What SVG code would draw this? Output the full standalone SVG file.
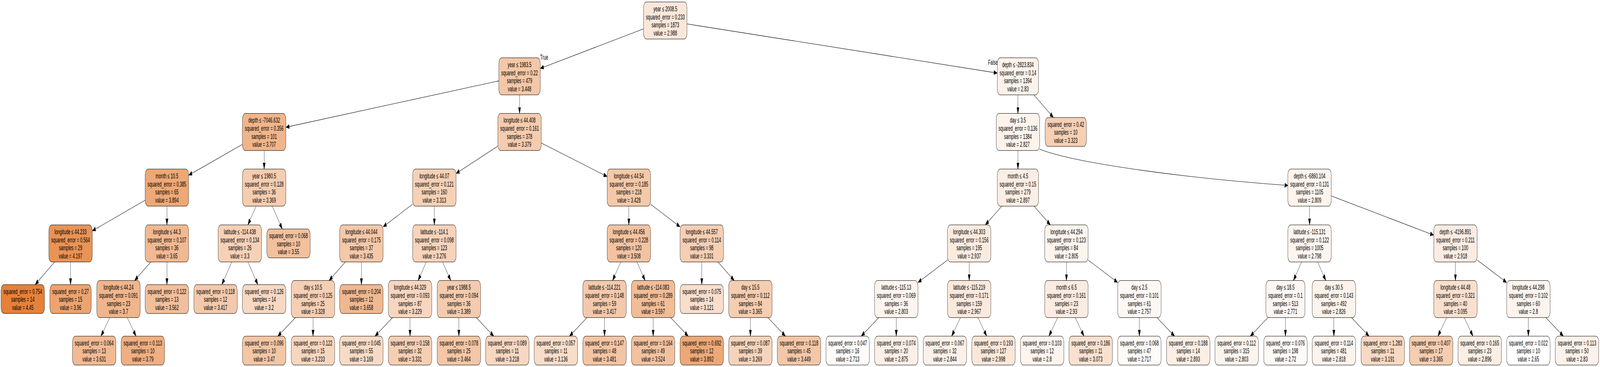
<svg xmlns="http://www.w3.org/2000/svg" width="7371" height="940" viewBox="0 0 7371 940" preserveAspectRatio="none">
<style>
:root{width:100vw;height:100vh}
.node rect{stroke:#000;stroke-width:1.1}
text{font-family:"Liberation Sans",Arial,Helvetica,sans-serif;font-size:18px;fill:#000}
.node text{text-anchor:middle}
.edges path{fill:none;stroke:#000;stroke-width:1.1;marker-end:url(#arr)}
</style>
<defs>
<marker id="arr" markerUnits="userSpaceOnUse" markerWidth="16" markerHeight="12" viewBox="0 0 15 10.4" refX="15" refY="5.2" orient="auto">
<path d="M0,0 L15,5.2 L0,10.4 z" fill="#000" stroke="#000" stroke-width="0.8"/>
</marker>
</defs>
<rect width="7371" height="940" fill="#fff"/>
<g class="edges">
<path d="M2965,73.8 L2489,175.2"/>
<path d="M3165,61.3 L4594.5,187.1"/>
<path d="M2298,207.1 L1317,325.9"/>
<path d="M2393.5,243 L2393.5,290.5"/>
<path d="M4689.5,243 L4689.5,290.5"/>
<path d="M4763,243 L4852.7,301"/>
<path d="M1117,369.8 L869,448.7"/>
<path d="M1217,385.5 L1217,433"/>
<path d="M2293.5,374.3 L2101,444.2"/>
<path d="M2493.5,366.3 L2797,452.2"/>
<path d="M4689.5,385.5 L4689.5,433"/>
<path d="M4789,382 C4960,420 5500,458 5934,475"/>
<path d="M669,512.7 L425,591.3"/>
<path d="M769,528 L769,576"/>
<path d="M1179.8,528 L1142.2,576"/>
<path d="M1254.2,528 L1300,586.5"/>
<path d="M1901,523.1 L1765,580.9"/>
<path d="M2001,528 L2001,576"/>
<path d="M2897,528 L2897,576"/>
<path d="M2997,523.1 L3133,580.9"/>
<path d="M4615,528 L4539.5,576"/>
<path d="M4763.7,528 L4838.8,576"/>
<path d="M6033,528 L6033,576"/>
<path d="M6133,501.8 L6605,602.2"/>
<path d="M251.7,671 L162.1,729"/>
<path d="M325,671 L325,729"/>
<path d="M694.7,671 L620.3,718.5"/>
<path d="M769,671 L769,729"/>
<path d="M1067.7,671 L1022.1,729"/>
<path d="M1142.3,671 L1187.9,729"/>
<path d="M1590.7,671 L1516.3,718.5"/>
<path d="M1665,671 L1665,729"/>
<path d="M1963.7,671 L1926.3,718.5"/>
<path d="M2038.7,671 L2076.3,718.5"/>
<path d="M2859.7,671 L2822.3,718.5"/>
<path d="M2934.3,671 L2971.7,718.5"/>
<path d="M3233,671 L3233,729"/>
<path d="M3307.7,671 L3382.3,718.5"/>
<path d="M4365,665.9 L4229,723.6"/>
<path d="M4465,671 L4465,718.5"/>
<path d="M4913,671 L4913,718.5"/>
<path d="M5013,665.9 L5149,723.6"/>
<path d="M5996,671 L5959,718.5"/>
<path d="M6070.3,671 L6107.7,718.5"/>
<path d="M6705,671 L6705,718.5"/>
<path d="M6805,665.9 L6941,723.6"/>
<path d="M505.7,813.5 L465.4,861"/>
<path d="M586.3,813.5 L626.6,861"/>
<path d="M1361,813.5 L1280,861"/>
<path d="M1442,813.5 L1442,861"/>
<path d="M1808.4,813.5 L1727.7,861"/>
<path d="M1889,813.5 L1889,861"/>
<path d="M2114,813.5 L2114,861"/>
<path d="M2194.3,813.5 L2274.6,861"/>
<path d="M2704.4,813.5 L2623.7,861"/>
<path d="M2785,813.5 L2785,861"/>
<path d="M3009,813.5 L3009,861"/>
<path d="M3089.6,813.5 L3170.3,861"/>
<path d="M3457,813.5 L3457,861"/>
<path d="M3537.6,813.5 L3618.3,861"/>
<path d="M4048.4,813.5 L3967.7,861"/>
<path d="M4129,813.5 L4129,861"/>
<path d="M4424.7,813.5 L4384.4,861"/>
<path d="M4505.3,813.5 L4545.6,861"/>
<path d="M4872.7,813.5 L4832.4,861"/>
<path d="M4953.3,813.5 L4993.6,861"/>
<path d="M5249,813.5 L5249,861"/>
<path d="M5330,813.5 L5411,861"/>
<path d="M5841,813.5 L5760,861"/>
<path d="M5922,813.5 L5922,861"/>
<path d="M6145,813.5 L6145,861"/>
<path d="M6226,813.5 L6307,861"/>
<path d="M6664.7,813.5 L6624.4,861"/>
<path d="M6745.3,813.5 L6785.6,861"/>
<path d="M7041,813.5 L7041,861"/>
<path d="M7121.6,813.5 L7202.3,861"/>
<text x="2489" y="153">True</text>
<text x="4552" y="166">False</text>
</g>
<g id="n0" class="node"><rect x="2965" y="5" width="200" height="95" rx="14" fill="#fae7da"/><text x="3065" y="29">year ≤ 2008.5<tspan x="3065" dy="20.6">squared_error = 0.233</tspan><tspan x="3065" dy="20.6">samples = 1873</tspan><tspan x="3065" dy="20.6">value = 2.988</tspan></text></g>
<g id="n1" class="node"><rect x="2298" y="148" width="191" height="95" rx="14" fill="#f3c7a7"/><text x="2393.5" y="172">year ≤ 1983.5<tspan x="2393.5" dy="20.6">squared_error = 0.22</tspan><tspan x="2393.5" dy="20.6">samples = 479</tspan><tspan x="2393.5" dy="20.6">value = 3.448</tspan></text></g>
<g id="n2" class="node"><rect x="4594.5" y="148" width="190" height="95" rx="14" fill="#fcf2eb"/><text x="4689.5" y="172">depth ≤ -2823.834<tspan x="4689.5" dy="20.6">squared_error = 0.14</tspan><tspan x="4689.5" dy="20.6">samples = 1394</tspan><tspan x="4689.5" dy="20.6">value = 2.83</tspan></text></g>
<g id="n3" class="node"><rect x="1117" y="290.5" width="200" height="95" rx="14" fill="#f0b58b"/><text x="1217" y="314.5">depth ≤ -7046.632<tspan x="1217" dy="20.6">squared_error = 0.356</tspan><tspan x="1217" dy="20.6">samples = 101</tspan><tspan x="1217" dy="20.6">value = 3.707</tspan></text></g>
<g id="n4" class="node"><rect x="2293.5" y="290.5" width="200" height="95" rx="14" fill="#f4ccaf"/><text x="2393.5" y="314.5">longitude ≤ 44.408<tspan x="2393.5" dy="20.6">squared_error = 0.161</tspan><tspan x="2393.5" dy="20.6">samples = 378</tspan><tspan x="2393.5" dy="20.6">value = 3.379</tspan></text></g>
<g id="n5" class="node"><rect x="4589.5" y="290.5" width="200" height="95" rx="14" fill="#fcf3ec"/><text x="4689.5" y="314.5">day ≤ 3.5<tspan x="4689.5" dy="20.6">squared_error = 0.136</tspan><tspan x="4689.5" dy="20.6">samples = 1384</tspan><tspan x="4689.5" dy="20.6">value = 2.827</tspan></text></g>
<g id="n6" class="node"><rect x="4815" y="301" width="190" height="74" rx="14" fill="#f5d0b5"/><text x="4910" y="324.8">squared_error = 0.42<tspan x="4910" dy="20.6">samples = 10</tspan><tspan x="4910" dy="20.6">value = 3.323</tspan></text></g>
<g id="n7" class="node"><rect x="669" y="433" width="200" height="95" rx="14" fill="#eda876"/><text x="769" y="457">month ≤ 10.5<tspan x="769" dy="20.6">squared_error = 0.385</tspan><tspan x="769" dy="20.6">samples = 65</tspan><tspan x="769" dy="20.6">value = 3.894</tspan></text></g>
<g id="n8" class="node"><rect x="1117" y="433" width="200" height="95" rx="14" fill="#f5cdb0"/><text x="1217" y="457">year ≤ 1980.5<tspan x="1217" dy="20.6">squared_error = 0.128</tspan><tspan x="1217" dy="20.6">samples = 36</tspan><tspan x="1217" dy="20.6">value = 3.369</tspan></text></g>
<g id="n9" class="node"><rect x="1901" y="433" width="200" height="95" rx="14" fill="#f5d1b6"/><text x="2001" y="457">longitude ≤ 44.07<tspan x="2001" dy="20.6">squared_error = 0.121</tspan><tspan x="2001" dy="20.6">samples = 160</tspan><tspan x="2001" dy="20.6">value = 3.313</tspan></text></g>
<g id="n10" class="node"><rect x="2797" y="433" width="200" height="95" rx="14" fill="#f4c9a9"/><text x="2897" y="457">longitude ≤ 44.54<tspan x="2897" dy="20.6">squared_error = 0.185</tspan><tspan x="2897" dy="20.6">samples = 218</tspan><tspan x="2897" dy="20.6">value = 3.428</tspan></text></g>
<g id="n11" class="node"><rect x="4594.5" y="433" width="190" height="95" rx="14" fill="#fbeee4"/><text x="4689.5" y="457">month ≤ 4.5<tspan x="4689.5" dy="20.6">squared_error = 0.15</tspan><tspan x="4689.5" dy="20.6">samples = 279</tspan><tspan x="4689.5" dy="20.6">value = 2.897</tspan></text></g>
<g id="n12" class="node"><rect x="5933" y="433" width="200" height="95" rx="14" fill="#fdf4ed"/><text x="6033" y="457">depth ≤ -6860.104<tspan x="6033" dy="20.6">squared_error = 0.131</tspan><tspan x="6033" dy="20.6">samples = 1105</tspan><tspan x="6033" dy="20.6">value = 2.809</tspan></text></g>
<g id="n13" class="node"><rect x="225" y="576" width="200" height="95" rx="14" fill="#e99355"/><text x="325" y="600">longitude ≤ 44.233<tspan x="325" dy="20.6">squared_error = 0.564</tspan><tspan x="325" dy="20.6">samples = 29</tspan><tspan x="325" dy="20.6">value = 4.197</tspan></text></g>
<g id="n14" class="node"><rect x="669" y="576" width="200" height="95" rx="14" fill="#f1b991"/><text x="769" y="600">longitude ≤ 44.3<tspan x="769" dy="20.6">squared_error = 0.107</tspan><tspan x="769" dy="20.6">samples = 36</tspan><tspan x="769" dy="20.6">value = 3.65</tspan></text></g>
<g id="n15" class="node"><rect x="1005" y="576" width="200" height="95" rx="14" fill="#f6d1b7"/><text x="1105" y="600">latitude ≤ -114.438<tspan x="1105" dy="20.6">squared_error = 0.134</tspan><tspan x="1105" dy="20.6">samples = 26</tspan><tspan x="1105" dy="20.6">value = 3.3</tspan></text></g>
<g id="n16" class="node"><rect x="1229" y="586.5" width="200" height="74" rx="14" fill="#f2c09c"/><text x="1329" y="610.3">squared_error = 0.068<tspan x="1329" dy="20.6">samples = 10</tspan><tspan x="1329" dy="20.6">value = 3.55</tspan></text></g>
<g id="n17" class="node"><rect x="1565" y="576" width="200" height="95" rx="14" fill="#f4c8a9"/><text x="1665" y="600">longitude ≤ 44.044<tspan x="1665" dy="20.6">squared_error = 0.175</tspan><tspan x="1665" dy="20.6">samples = 37</tspan><tspan x="1665" dy="20.6">value = 3.435</tspan></text></g>
<g id="n18" class="node"><rect x="1901" y="576" width="200" height="95" rx="14" fill="#f6d3ba"/><text x="2001" y="600">latitude ≤ -114.1<tspan x="2001" dy="20.6">squared_error = 0.098</tspan><tspan x="2001" dy="20.6">samples = 123</tspan><tspan x="2001" dy="20.6">value = 3.276</tspan></text></g>
<g id="n19" class="node"><rect x="2797" y="576" width="200" height="95" rx="14" fill="#f3c3a1"/><text x="2897" y="600">longitude ≤ 44.456<tspan x="2897" dy="20.6">squared_error = 0.228</tspan><tspan x="2897" dy="20.6">samples = 120</tspan><tspan x="2897" dy="20.6">value = 3.508</tspan></text></g>
<g id="n20" class="node"><rect x="3133" y="576" width="200" height="95" rx="14" fill="#f5cfb4"/><text x="3233" y="600">longitude ≤ 44.557<tspan x="3233" dy="20.6">squared_error = 0.114</tspan><tspan x="3233" dy="20.6">samples = 98</tspan><tspan x="3233" dy="20.6">value = 3.331</tspan></text></g>
<g id="n21" class="node"><rect x="4365" y="576" width="200" height="95" rx="14" fill="#fbebdf"/><text x="4465" y="600">longitude ≤ 44.303<tspan x="4465" dy="20.6">squared_error = 0.156</tspan><tspan x="4465" dy="20.6">samples = 195</tspan><tspan x="4465" dy="20.6">value = 2.937</tspan></text></g>
<g id="n22" class="node"><rect x="4813" y="576" width="200" height="95" rx="14" fill="#fdf4ee"/><text x="4913" y="600">longitude ≤ 44.294<tspan x="4913" dy="20.6">squared_error = 0.123</tspan><tspan x="4913" dy="20.6">samples = 84</tspan><tspan x="4913" dy="20.6">value = 2.805</tspan></text></g>
<g id="n23" class="node"><rect x="5933" y="576" width="200" height="95" rx="14" fill="#fdf5ef"/><text x="6033" y="600">latitude ≤ -115.131<tspan x="6033" dy="20.6">squared_error = 0.122</tspan><tspan x="6033" dy="20.6">samples = 1005</tspan><tspan x="6033" dy="20.6">value = 2.798</tspan></text></g>
<g id="n24" class="node"><rect x="6605" y="576" width="200" height="95" rx="14" fill="#fbece2"/><text x="6705" y="600">depth ≤ -4196.891<tspan x="6705" dy="20.6">squared_error = 0.211</tspan><tspan x="6705" dy="20.6">samples = 100</tspan><tspan x="6705" dy="20.6">value = 2.918</tspan></text></g>
<g id="n25" class="node"><rect x="5" y="729" width="200" height="74" rx="14" fill="#e58139"/><text x="105" y="752.8">squared_error = 0.754<tspan x="105" dy="20.6">samples = 14</tspan><tspan x="105" dy="20.6">value = 4.45</tspan></text></g>
<g id="n26" class="node"><rect x="230" y="729" width="190" height="74" rx="14" fill="#eca36f"/><text x="325" y="752.8">squared_error = 0.27<tspan x="325" dy="20.6">samples = 15</tspan><tspan x="325" dy="20.6">value = 3.96</tspan></text></g>
<g id="n27" class="node"><rect x="446" y="718.5" width="200" height="95" rx="14" fill="#f0b58c"/><text x="546" y="742.5">longitude ≤ 44.24<tspan x="546" dy="20.6">squared_error = 0.091</tspan><tspan x="546" dy="20.6">samples = 23</tspan><tspan x="546" dy="20.6">value = 3.7</tspan></text></g>
<g id="n28" class="node"><rect x="669" y="729" width="200" height="74" rx="14" fill="#f2bf9b"/><text x="769" y="752.8">squared_error = 0.122<tspan x="769" dy="20.6">samples = 13</tspan><tspan x="769" dy="20.6">value = 3.562</tspan></text></g>
<g id="n29" class="node"><rect x="893" y="729" width="200" height="74" rx="14" fill="#f4c9ab"/><text x="993" y="752.8">squared_error = 0.118<tspan x="993" dy="20.6">samples = 12</tspan><tspan x="993" dy="20.6">value = 3.417</tspan></text></g>
<g id="n30" class="node"><rect x="1117" y="729" width="200" height="74" rx="14" fill="#f7d8c2"/><text x="1217" y="752.8">squared_error = 0.126<tspan x="1217" dy="20.6">samples = 14</tspan><tspan x="1217" dy="20.6">value = 3.2</tspan></text></g>
<g id="n31" class="node"><rect x="1342" y="718.5" width="200" height="95" rx="14" fill="#f5cfb4"/><text x="1442" y="742.5">day ≤ 10.5<tspan x="1442" dy="20.6">squared_error = 0.125</tspan><tspan x="1442" dy="20.6">samples = 25</tspan><tspan x="1442" dy="20.6">value = 3.328</tspan></text></g>
<g id="n32" class="node"><rect x="1565" y="729" width="200" height="74" rx="14" fill="#f0b890"/><text x="1665" y="752.8">squared_error = 0.204<tspan x="1665" dy="20.6">samples = 12</tspan><tspan x="1665" dy="20.6">value = 3.658</tspan></text></g>
<g id="n33" class="node"><rect x="1789" y="718.5" width="200" height="95" rx="14" fill="#f7d6bf"/><text x="1889" y="742.5">longitude ≤ 44.329<tspan x="1889" dy="20.6">squared_error = 0.093</tspan><tspan x="1889" dy="20.6">samples = 87</tspan><tspan x="1889" dy="20.6">value = 3.229</tspan></text></g>
<g id="n34" class="node"><rect x="2014" y="718.5" width="200" height="95" rx="14" fill="#f4cbae"/><text x="2114" y="742.5">year ≤ 1988.5<tspan x="2114" dy="20.6">squared_error = 0.094</tspan><tspan x="2114" dy="20.6">samples = 36</tspan><tspan x="2114" dy="20.6">value = 3.389</tspan></text></g>
<g id="n35" class="node"><rect x="2685" y="718.5" width="200" height="95" rx="14" fill="#f4c9ab"/><text x="2785" y="742.5">latitude ≤ -114.221<tspan x="2785" dy="20.6">squared_error = 0.148</tspan><tspan x="2785" dy="20.6">samples = 59</tspan><tspan x="2785" dy="20.6">value = 3.417</tspan></text></g>
<g id="n36" class="node"><rect x="2909" y="718.5" width="200" height="95" rx="14" fill="#f1bd97"/><text x="3009" y="742.5">latitude ≤ -114.083<tspan x="3009" dy="20.6">squared_error = 0.289</tspan><tspan x="3009" dy="20.6">samples = 61</tspan><tspan x="3009" dy="20.6">value = 3.597</tspan></text></g>
<g id="n37" class="node"><rect x="3133" y="729" width="200" height="74" rx="14" fill="#f8decb"/><text x="3233" y="752.8">squared_error = 0.075<tspan x="3233" dy="20.6">samples = 14</tspan><tspan x="3233" dy="20.6">value = 3.121</tspan></text></g>
<g id="n38" class="node"><rect x="3357" y="718.5" width="200" height="95" rx="14" fill="#f5cdb0"/><text x="3457" y="742.5">day ≤ 15.5<tspan x="3457" dy="20.6">squared_error = 0.112</tspan><tspan x="3457" dy="20.6">samples = 84</tspan><tspan x="3457" dy="20.6">value = 3.365</tspan></text></g>
<g id="n39" class="node"><rect x="4029" y="718.5" width="200" height="95" rx="14" fill="#fdf4ee"/><text x="4129" y="742.5">latitude ≤ -115.13<tspan x="4129" dy="20.6">squared_error = 0.069</tspan><tspan x="4129" dy="20.6">samples = 36</tspan><tspan x="4129" dy="20.6">value = 2.803</tspan></text></g>
<g id="n40" class="node"><rect x="4365" y="718.5" width="200" height="95" rx="14" fill="#fae9dc"/><text x="4465" y="742.5">latitude ≤ -115.219<tspan x="4465" dy="20.6">squared_error = 0.171</tspan><tspan x="4465" dy="20.6">samples = 159</tspan><tspan x="4465" dy="20.6">value = 2.967</tspan></text></g>
<g id="n41" class="node"><rect x="4813" y="718.5" width="200" height="95" rx="14" fill="#fbebe0"/><text x="4913" y="742.5">month ≤ 6.5<tspan x="4913" dy="20.6">squared_error = 0.161</tspan><tspan x="4913" dy="20.6">samples = 23</tspan><tspan x="4913" dy="20.6">value = 2.93</tspan></text></g>
<g id="n42" class="node"><rect x="5149" y="718.5" width="200" height="95" rx="14" fill="#fdf8f3"/><text x="5249" y="742.5">day ≤ 2.5<tspan x="5249" dy="20.6">squared_error = 0.101</tspan><tspan x="5249" dy="20.6">samples = 61</tspan><tspan x="5249" dy="20.6">value = 2.757</tspan></text></g>
<g id="n43" class="node"><rect x="5832" y="718.5" width="180" height="95" rx="14" fill="#fdf6f2"/><text x="5922" y="742.5">day ≤ 18.5<tspan x="5922" dy="20.6">squared_error = 0.1</tspan><tspan x="5922" dy="20.6">samples = 513</tspan><tspan x="5922" dy="20.6">value = 2.771</tspan></text></g>
<g id="n44" class="node"><rect x="6045" y="718.5" width="200" height="95" rx="14" fill="#fcf3ec"/><text x="6145" y="742.5">day ≤ 30.5<tspan x="6145" dy="20.6">squared_error = 0.143</tspan><tspan x="6145" dy="20.6">samples = 492</tspan><tspan x="6145" dy="20.6">value = 2.826</tspan></text></g>
<g id="n45" class="node"><rect x="6605" y="718.5" width="200" height="95" rx="14" fill="#f9e0ce"/><text x="6705" y="742.5">longitude ≤ 44.48<tspan x="6705" dy="20.6">squared_error = 0.321</tspan><tspan x="6705" dy="20.6">samples = 40</tspan><tspan x="6705" dy="20.6">value = 3.095</tspan></text></g>
<g id="n46" class="node"><rect x="6941" y="718.5" width="200" height="95" rx="14" fill="#fdf4ee"/><text x="7041" y="742.5">longitude ≤ 44.298<tspan x="7041" dy="20.6">squared_error = 0.102</tspan><tspan x="7041" dy="20.6">samples = 60</tspan><tspan x="7041" dy="20.6">value = 2.8</tspan></text></g>
<g id="n47" class="node"><rect x="334" y="861" width="200" height="74" rx="14" fill="#f1ba93"/><text x="434" y="884.8">squared_error = 0.064<tspan x="434" dy="20.6">samples = 13</tspan><tspan x="434" dy="20.6">value = 3.631</tspan></text></g>
<g id="n48" class="node"><rect x="558" y="861" width="200" height="74" rx="14" fill="#efaf82"/><text x="658" y="884.8">squared_error = 0.113<tspan x="658" dy="20.6">samples = 10</tspan><tspan x="658" dy="20.6">value = 3.79</tspan></text></g>
<g id="n49" class="node"><rect x="1117" y="861" width="200" height="74" rx="14" fill="#f3c6a5"/><text x="1217" y="884.8">squared_error = 0.096<tspan x="1217" dy="20.6">samples = 10</tspan><tspan x="1217" dy="20.6">value = 3.47</tspan></text></g>
<g id="n50" class="node"><rect x="1342" y="861" width="200" height="74" rx="14" fill="#f7d6bf"/><text x="1442" y="884.8">squared_error = 0.122<tspan x="1442" dy="20.6">samples = 15</tspan><tspan x="1442" dy="20.6">value = 3.233</tspan></text></g>
<g id="n51" class="node"><rect x="1565" y="861" width="200" height="74" rx="14" fill="#f8dbc6"/><text x="1665" y="884.8">squared_error = 0.045<tspan x="1665" dy="20.6">samples = 55</tspan><tspan x="1665" dy="20.6">value = 3.169</tspan></text></g>
<g id="n52" class="node"><rect x="1789" y="861" width="200" height="74" rx="14" fill="#f5cfb4"/><text x="1889" y="884.8">squared_error = 0.158<tspan x="1889" dy="20.6">samples = 32</tspan><tspan x="1889" dy="20.6">value = 3.331</tspan></text></g>
<g id="n53" class="node"><rect x="2014" y="861" width="200" height="74" rx="14" fill="#f3c6a5"/><text x="2114" y="884.8">squared_error = 0.078<tspan x="2114" dy="20.6">samples = 25</tspan><tspan x="2114" dy="20.6">value = 3.464</tspan></text></g>
<g id="n54" class="node"><rect x="2237" y="861" width="200" height="74" rx="14" fill="#f7d7c0"/><text x="2337" y="884.8">squared_error = 0.089<tspan x="2337" dy="20.6">samples = 11</tspan><tspan x="2337" dy="20.6">value = 3.218</tspan></text></g>
<g id="n55" class="node"><rect x="2461" y="861" width="200" height="74" rx="14" fill="#f8ddc9"/><text x="2561" y="884.8">squared_error = 0.057<tspan x="2561" dy="20.6">samples = 11</tspan><tspan x="2561" dy="20.6">value = 3.136</tspan></text></g>
<g id="n56" class="node"><rect x="2685" y="861" width="200" height="74" rx="14" fill="#f3c5a4"/><text x="2785" y="884.8">squared_error = 0.147<tspan x="2785" dy="20.6">samples = 48</tspan><tspan x="2785" dy="20.6">value = 3.481</tspan></text></g>
<g id="n57" class="node"><rect x="2909" y="861" width="200" height="74" rx="14" fill="#f2c29f"/><text x="3009" y="884.8">squared_error = 0.164<tspan x="3009" dy="20.6">samples = 49</tspan><tspan x="3009" dy="20.6">value = 3.524</tspan></text></g>
<g id="n58" class="node"><rect x="3133" y="861" width="200" height="74" rx="14" fill="#eda876"/><text x="3233" y="884.8">squared_error = 0.692<tspan x="3233" dy="20.6">samples = 12</tspan><tspan x="3233" dy="20.6">value = 3.892</tspan></text></g>
<g id="n59" class="node"><rect x="3357" y="861" width="200" height="74" rx="14" fill="#f6d4bb"/><text x="3457" y="884.8">squared_error = 0.087<tspan x="3457" dy="20.6">samples = 39</tspan><tspan x="3457" dy="20.6">value = 3.269</tspan></text></g>
<g id="n60" class="node"><rect x="3581" y="861" width="200" height="74" rx="14" fill="#f3c7a7"/><text x="3681" y="884.8">squared_error = 0.118<tspan x="3681" dy="20.6">samples = 45</tspan><tspan x="3681" dy="20.6">value = 3.449</tspan></text></g>
<g id="n61" class="node"><rect x="3805" y="861" width="200" height="74" rx="14" fill="#fefbf8"/><text x="3905" y="884.8">squared_error = 0.047<tspan x="3905" dy="20.6">samples = 16</tspan><tspan x="3905" dy="20.6">value = 2.713</tspan></text></g>
<g id="n62" class="node"><rect x="4029" y="861" width="200" height="74" rx="14" fill="#fcefe6"/><text x="4129" y="884.8">squared_error = 0.074<tspan x="4129" dy="20.6">samples = 20</tspan><tspan x="4129" dy="20.6">value = 2.875</tspan></text></g>
<g id="n63" class="node"><rect x="4253" y="861" width="200" height="74" rx="14" fill="#fcf1e9"/><text x="4353" y="884.8">squared_error = 0.067<tspan x="4353" dy="20.6">samples = 32</tspan><tspan x="4353" dy="20.6">value = 2.844</tspan></text></g>
<g id="n64" class="node"><rect x="4477" y="861" width="200" height="74" rx="14" fill="#fae7d9"/><text x="4577" y="884.8">squared_error = 0.193<tspan x="4577" dy="20.6">samples = 127</tspan><tspan x="4577" dy="20.6">value = 2.998</tspan></text></g>
<g id="n65" class="node"><rect x="4701" y="861" width="200" height="74" rx="14" fill="#fdf4ee"/><text x="4801" y="884.8">squared_error = 0.103<tspan x="4801" dy="20.6">samples = 12</tspan><tspan x="4801" dy="20.6">value = 2.8</tspan></text></g>
<g id="n66" class="node"><rect x="4925" y="861" width="200" height="74" rx="14" fill="#f9e1d0"/><text x="5025" y="884.8">squared_error = 0.186<tspan x="5025" dy="20.6">samples = 11</tspan><tspan x="5025" dy="20.6">value = 3.073</tspan></text></g>
<g id="n67" class="node"><rect x="5149" y="861" width="200" height="74" rx="14" fill="#fefaf7"/><text x="5249" y="884.8">squared_error = 0.068<tspan x="5249" dy="20.6">samples = 47</tspan><tspan x="5249" dy="20.6">value = 2.717</tspan></text></g>
<g id="n68" class="node"><rect x="5374" y="861" width="200" height="74" rx="14" fill="#fbeee4"/><text x="5474" y="884.8">squared_error = 0.188<tspan x="5474" dy="20.6">samples = 14</tspan><tspan x="5474" dy="20.6">value = 2.893</tspan></text></g>
<g id="n69" class="node"><rect x="5597" y="861" width="200" height="74" rx="14" fill="#fdf4ee"/><text x="5697" y="884.8">squared_error = 0.112<tspan x="5697" dy="20.6">samples = 315</tspan><tspan x="5697" dy="20.6">value = 2.803</tspan></text></g>
<g id="n70" class="node"><rect x="5822" y="861" width="200" height="74" rx="14" fill="#fefaf7"/><text x="5922" y="884.8">squared_error = 0.076<tspan x="5922" dy="20.6">samples = 198</tspan><tspan x="5922" dy="20.6">value = 2.72</tspan></text></g>
<g id="n71" class="node"><rect x="6045" y="861" width="200" height="74" rx="14" fill="#fdf3ed"/><text x="6145" y="884.8">squared_error = 0.114<tspan x="6145" dy="20.6">samples = 481</tspan><tspan x="6145" dy="20.6">value = 2.818</tspan></text></g>
<g id="n72" class="node"><rect x="6270" y="861" width="200" height="74" rx="14" fill="#f7d9c4"/><text x="6370" y="884.8">squared_error = 1.283<tspan x="6370" dy="20.6">samples = 11</tspan><tspan x="6370" dy="20.6">value = 3.191</tspan></text></g>
<g id="n73" class="node"><rect x="6493" y="861" width="200" height="74" rx="14" fill="#f5cdb0"/><text x="6593" y="884.8">squared_error = 0.407<tspan x="6593" dy="20.6">samples = 17</tspan><tspan x="6593" dy="20.6">value = 3.365</tspan></text></g>
<g id="n74" class="node"><rect x="6717" y="861" width="200" height="74" rx="14" fill="#fbeee4"/><text x="6817" y="884.8">squared_error = 0.165<tspan x="6817" dy="20.6">samples = 23</tspan><tspan x="6817" dy="20.6">value = 2.896</tspan></text></g>
<g id="n75" class="node"><rect x="6941" y="861" width="200" height="74" rx="14" fill="#ffffff"/><text x="7041" y="884.8">squared_error = 0.022<tspan x="7041" dy="20.6">samples = 10</tspan><tspan x="7041" dy="20.6">value = 2.65</tspan></text></g>
<g id="n76" class="node"><rect x="7165" y="861" width="200" height="74" rx="14" fill="#fcf2eb"/><text x="7265" y="884.8">squared_error = 0.113<tspan x="7265" dy="20.6">samples = 50</tspan><tspan x="7265" dy="20.6">value = 2.83</tspan></text></g>
</svg>
